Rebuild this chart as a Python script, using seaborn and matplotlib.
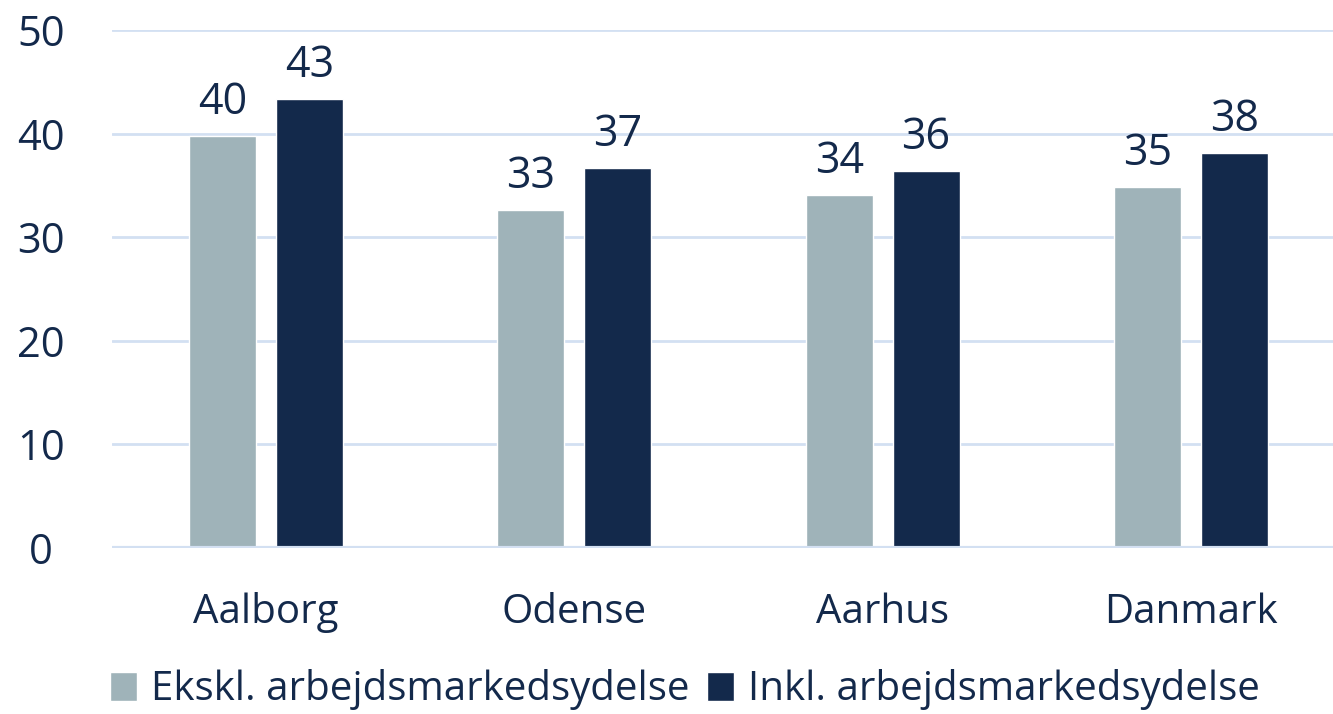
import matplotlib
matplotlib.use("Agg")
import matplotlib.pyplot as plt
import pandas as pd
import seaborn as sns

# data
regions = ["Aalborg", "Odense", "Aarhus", "Danmark"]
series = ["Ekskl. arbejdsmarkedsydelse", "Inkl. arbejdsmarkedsydelse"]
excl_vals = [39.8, 32.6, 34.1, 34.8]
incl_vals = [43.3, 36.7, 36.4, 38.1]
y_ticks = [0, 10, 20, 30, 40, 50]

GREY = "#9fb3b9"
NAVY = "#13294b"
GRID = "#d3e0f2"

df = pd.DataFrame({
    "region": regions * 2,
    "serie": [series[0]] * len(regions) + [series[1]] * len(regions),
    "value": excl_vals + incl_vals,
})

sns.set_theme(style="white")
plt.rcParams["font.family"] = ["Open Sans", "DejaVu Sans"]

fig = plt.figure(figsize=(13.33, 7.14), dpi=100)
ax = fig.add_axes([0.084, 0.2325, 0.925, 0.7255])

sns.barplot(data=df, x="region", y="value", hue="serie", order=regions,
            hue_order=series, palette=[GREY, NAVY], width=0.564, gap=0.23,
            saturation=1, errorbar=None, ax=ax, zorder=3)

for cont in ax.containers:
    ax.bar_label(cont, fmt="%.0f", padding=8, fontsize=31, color=NAVY)

ax.set_ylim(0, 50)
ax.set_xlim(-0.5, 3.5)
ax.set_yticks(y_ticks)
ax.grid(axis="y", color=GRID, linewidth=2, zorder=0)
ax.axhline(0, color=GRID, linewidth=3, zorder=4)
for s in ax.spines.values():
    s.set_visible(False)

ax.set_xlabel("")
ax.set_ylabel("")
ax.tick_params(axis="y", length=0, pad=51, labelsize=30, labelcolor=NAVY)
ax.tick_params(axis="x", length=0, pad=32, labelsize=29, labelcolor=NAVY)
for lbl in ax.get_yticklabels():
    lbl.set_horizontalalignment("center")

leg = ax.legend(loc="center", ncol=2, frameon=False, fontsize=29,
                handlelength=0.65, handleheight=0.7, handletextpad=0.35,
                columnspacing=0.45)
for t in leg.get_texts():
    t.set_color(NAVY)
leg.set_bbox_to_anchor((685 / 1333, 1 - 690 / 714), transform=fig.transFigure)

fig.savefig("out.png", dpi=100)
